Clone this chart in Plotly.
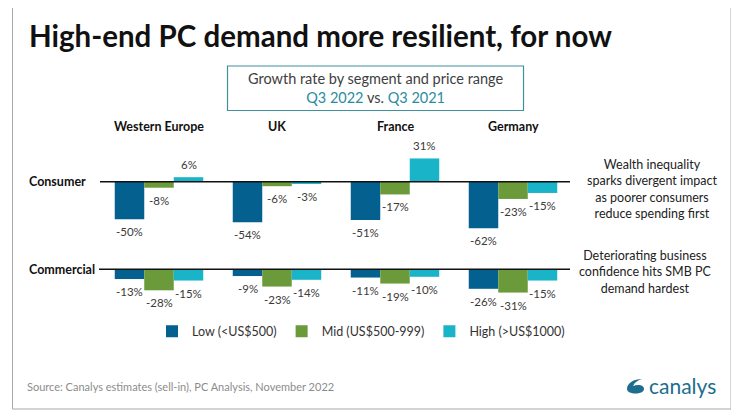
import plotly.graph_objects as go

# the page body adds an 8px margin, so the figure is drawn 8px smaller
PAGE_W, PAGE_H = 739, 416
OFF = 8
W, H = PAGE_W - OFF, PAGE_H - OFF

regions = ["Western Europe", "UK", "France", "Germany"]
tiers = ["Low (<US$500)", "Mid (US$500-999)", "High (>US$1000)"]
consumer_low = [-50, -54, -51, -62]
consumer_mid = [-8, -6, -17, -23]
consumer_high = [6, -3, 31, -15]
commercial_low = [-13, -9, -11, -26]
commercial_mid = [-28, -23, -19, -31]
commercial_high = [-15, -14, -10, -15]

colors = ["#03608f", "#6b9a3a", "#19b4c8"]
FONT = "Lato"


def px(x):
    return (x - OFF) / W


def py(y):
    return 1 - (y - OFF) / H


# pixel layout of the two panels (0.75 px per percentage point)
ppu = 0.75
group_px = 118.0
first_center = 159.0


def yaxis_for(top, bot, zero):
    return dict(domain=[py(bot), py(top)],
                range=[-(bot - zero) / ppu, (zero - top) / ppu],
                visible=False, fixedrange=True)


fig = go.Figure()

consumer = [consumer_low, consumer_mid, consumer_high]
commercial = [commercial_low, commercial_mid, commercial_high]

for k in range(3):
    fig.add_trace(go.Bar(x=regions, y=consumer[k], name=tiers[k],
                         marker=dict(color=colors[k], line=dict(width=0)),
                         xaxis="x", yaxis="y", hoverinfo="skip"))
for k in range(3):
    fig.add_trace(go.Bar(x=regions, y=commercial[k], name=tiers[k],
                         marker=dict(color=colors[k], line=dict(width=0)),
                         xaxis="x2", yaxis="y2", showlegend=False, hoverinfo="skip"))

xrange = [-(first_center - OFF) / group_px, (PAGE_W - first_center) / group_px]

fig.update_layout(
    width=W, height=H,
    margin=dict(l=0, r=0, t=0, b=0),
    paper_bgcolor="white", plot_bgcolor="rgba(0,0,0,0)",
    barmode="group", bargap=0.25, bargroupgap=0,
    font=dict(family=FONT, color="#404040"),
    xaxis=dict(domain=[0, 1], range=xrange, visible=False, fixedrange=True, anchor="y"),
    xaxis2=dict(domain=[0, 1], range=xrange, visible=False, fixedrange=True, anchor="y2"),
    yaxis=yaxis_for(140, 245, 181.7),
    yaxis2=yaxis_for(250, 312, 269.3),
    legend=dict(orientation="h", x=px(361), xanchor="center", y=py(331.7), yanchor="middle",
                font=dict(size=12.5, color="#333333", family=FONT), bgcolor="rgba(0,0,0,0)",
                itemwidth=30),
    showlegend=True,
)


def note(x, y, text, size, color="#222222", xanchor="center", **kw):
    return dict(x=px(x), y=py(y), xref="paper", yref="paper", xanchor=xanchor, yanchor="middle",
                text=text, showarrow=False, font=dict(size=size, color=color), **kw)


ann = []
# value labels
for yref, series in (("y", consumer), ("y2", commercial)):
    xr = "x" if yref == "y" else "x2"
    for k in range(3):
        for i, v in enumerate(series[k]):
            ann.append(dict(x=regions[i], y=v, xref=xr, yref=yref,
                            xanchor="center", yanchor="middle",
                            text=f"{v}%", showarrow=False,
                            xshift=(k - 1) * group_px * 0.25, yshift=12.5 if v > 0 else -12.5,
                            font=dict(size=11.5, color="#3a3a3a")))

# region headers
for r in regions:
    ann.append(dict(x=r, xref="x", y=py(126), yref="paper", xanchor="center", yanchor="middle",
                    text=f"<b>{r}</b>", showarrow=False, font=dict(size=12.5, color="#111111")))

# title and subtitle
ann.append(note(27, 36, "<b>High-end PC demand more resilient, for now</b>", 29.5,
                "#111111", xanchor="left"))
teal = "#2a8ca0"
ann.append(note(375.5, 88, ("Growth rate by segment and price range<br>"
                            f"<span style='color:{teal}'>Q3 2022</span> vs. "
                            f"<span style='color:{teal}'>Q3 2021</span>"),
                14.5, "#404040"))

# row labels
ann.append(note(27, 181, "<b>Consumer</b>", 12.5, "#111111", xanchor="left"))
ann.append(note(27, 269, "<b>Commercial</b>", 12.5, "#111111", xanchor="left"))

# commentary
ann.append(note(652, 188.5, "Wealth inequality<br>sparks divergent impact<br>as poorer consumers<br>reduce spending first", 12.5))
ann.append(note(645, 272, "Deteriorating business<br>confidence hits SMB PC<br>demand hardest", 12.5))

# source and logo
ann.append(note(25, 386, "Source: Canalys estimates (sell-in), PC Analysis, November 2022",
                11, "#8c8c8c", xanchor="left"))
ann.append(note(647, 385, "canalys", 21, "#1d6d8e", xanchor="left"))

fig.update_layout(annotations=ann)


def path(pts):
    out = []
    for p in pts:
        if isinstance(p, str):
            out.append(p)
        else:
            out.append(f"{px(p[0]):.5f},{py(p[1]):.5f}")
    return " ".join(out)


logo = path(["M", (627, 389), "C", (627, 395), (644, 395), (644, 389),
             "C", (644, 385), (638, 384), (633, 386),
             "C", (635, 382), (638, 380), (642, 379),
             "C", (634, 379), (627, 383), (627, 389), "Z"])

shapes = [
    dict(type="rect", xref="paper", yref="paper", x0=px(12.5), x1=px(731), y0=py(409), y1=py(5.5),
         line=dict(color="#a9a9a9", width=1), layer="below"),
    dict(type="rect", xref="paper", yref="paper", x0=px(227.5), x1=px(523.5), y0=py(110.5), y1=py(66),
         line=dict(color="#3f8f9d", width=1.2)),
    dict(type="line", xref="paper", yref="y", x0=px(100), x1=px(570), y0=0, y1=0,
         line=dict(color="#111111", width=1.5)),
    dict(type="line", xref="paper", yref="y2", x0=px(99), x1=px(570), y0=0, y1=0,
         line=dict(color="#111111", width=1.5)),
    dict(type="path", xref="paper", yref="paper", path=logo,
         fillcolor="#1d6d8e", line=dict(width=0)),
]
fig.update_layout(shapes=shapes)

fig.write_html("out.html", config={"displayModeBar": False})
